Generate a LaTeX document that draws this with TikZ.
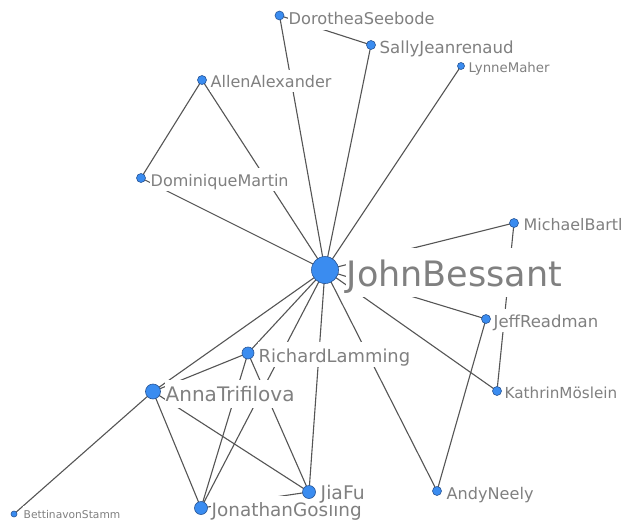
\documentclass[tikz,border=0pt]{standalone}
\usepackage{fontspec}
\usetikzlibrary{backgrounds}
\newfontfamily\lblfont{DejaVu Sans}
\definecolor{nodefill}{RGB}{58,140,240}
\definecolor{nodeline}{RGB}{40,85,150}
\definecolor{edgecol}{RGB}{85,85,85}
\definecolor{txtcol}{RGB}{128,128,128}
\begin{document}
\begin{tikzpicture}[x=1pt,y=-1pt,
  vtx/.style={circle,fill=nodefill,draw=nodeline,line width=0.6pt,minimum size=#1,inner sep=0pt},
  lbl/.style={anchor=base west,inner xsep=0.5pt,inner ysep=0pt,fill=white,text=txtcol,
    font=\lblfont\fontsize{#1}{#1}\selectfont,text height={1.1*#1pt},text depth={0.3*#1pt}},
  edge/.style={draw=edgecol,line width=1.1pt}]
\useasboundingbox (0,0) rectangle (626,524);

% vertices
\node[vtx=27] (jb) at (325,270) {};
\node[vtx=9] (ds) at (279.5,15.5) {};
\node[vtx=9] (sj) at (371,45) {};
\node[vtx=7] (lm) at (461,66) {};
\node[vtx=9] (aa) at (202,80) {};
\node[vtx=9] (dm) at (141,178) {};
\node[vtx=9] (mb) at (514,223) {};
\node[vtx=9] (jr) at (486,319) {};
\node[vtx=9] (km) at (497,391) {};
\node[vtx=9] (an) at (437,491) {};
\node[vtx=12] (rl) at (248,353) {};
\node[vtx=15] (at) at (153,391.5) {};
\node[vtx=13] (jf) at (309,492) {};
\node[vtx=13] (jg) at (201,508) {};
\node[vtx=6] (bs) at (14,514) {};

\begin{pgfonlayer}{background}
\fill[white] (0,0) rectangle (626,524);
% edges
\foreach \t in {ds,sj,lm,aa,dm,mb,jr,km,an,jf,jg,rl,at}
  \draw[edge] (jb.center) -- (\t.center);
\draw[edge] (ds.center) -- (sj.center);
\draw[edge] (aa.center) -- (dm.center);
\draw[edge] (mb.center) -- (km.center);
\draw[edge] (jr.center) -- (an.center);
\draw[edge] (at.center) -- (bs.center);
\draw[edge] (at.center) -- (rl.center);
\draw[edge] (at.center) -- (jg.center);
\draw[edge] (at.center) -- (jf.center);
\draw[edge] (rl.center) -- (jg.center);
\draw[edge] (rl.center) -- (jf.center);
\draw[edge] (jg.center) -- (jf.center);
% labels
\node[lbl=35] (ljb) at (346,286) {JohnBessant};
\node[lbl=16.2] (lds) at (288,25) {DorotheaSeebode};
\node[lbl=16.6] (lsj) at (379,53.5) {SallyJeanrenaud};
\node[lbl=13.3] (llm) at (468,72.5) {LynneMaher};
\node[lbl=16] (laa) at (210,87.5) {AllenAlexander};
\node[lbl=16] (ldm) at (150,186) {DominiqueMartin};
\node[lbl=15.9] (lmb) at (523,230.5) {MichaelBartl};
\node[lbl=16.5] (ljr) at (493,327) {JeffReadman};
\node[lbl=15.2] (lkm) at (504,398.5) {KathrinMöslein};
\node[lbl=16.1] (lan) at (446,499) {AndyNeely};
\node[lbl=17.9] (lrl) at (258,362) {RichardLamming};
\node[lbl=20] (lat) at (165,401.5) {AnnaTrifilova};
\node[lbl=18.4] (ljg) at (211,516) {JonathanGosling};
\node[lbl=18.8] (ljf) at (320,499) {JiaFu};
\node[lbl=10.7] (lbs) at (23,518) {BettinavonStamm};
\end{pgfonlayer}
\end{tikzpicture}
\end{document}
